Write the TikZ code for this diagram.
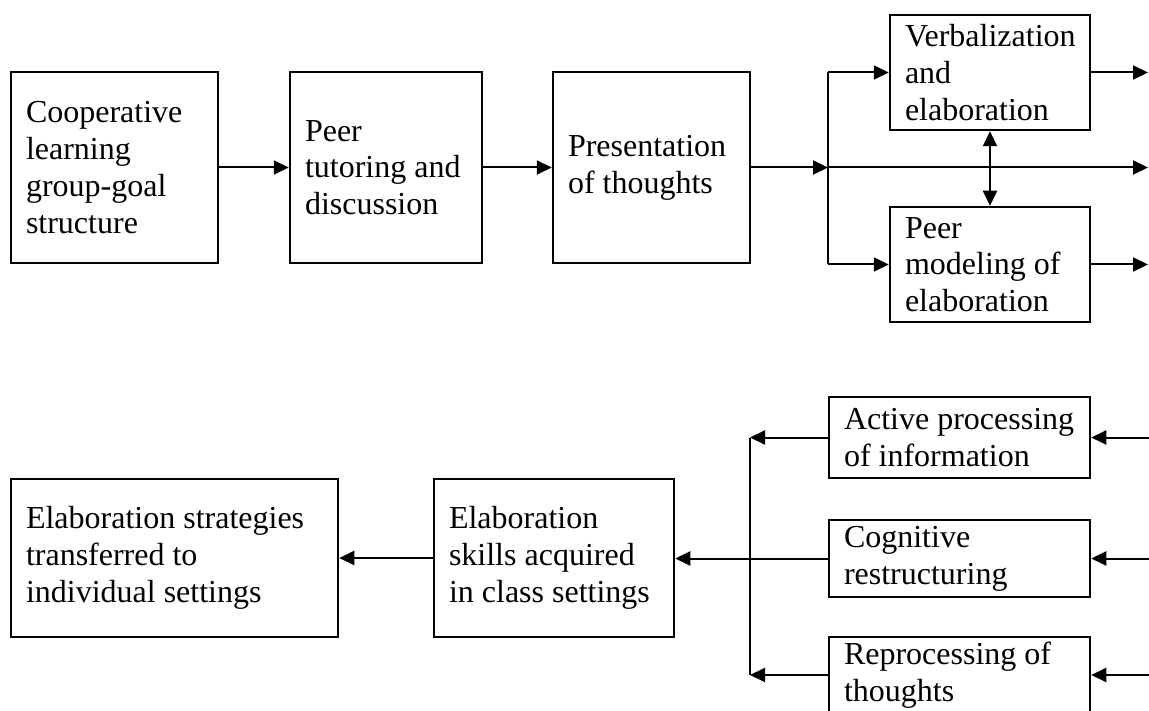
\documentclass[tikz,border=0pt]{standalone}
\usepackage{fontspec}
\setmainfont{Liberation Serif}
\usetikzlibrary{arrows.meta}
\hyphenpenalty=10000
\exhyphenpenalty=10000
\hbadness=10000
\hfuzz=50pt
\newcommand{\myboxfont}{\fontsize{32}{36.8}\selectfont}
\tikzset{
  box/.style={draw, line width=2.5pt, align=flush left, inner xsep=15pt, inner ysep=0pt,
    font=\myboxfont},
  conn/.style={line width=2pt},
  arr/.style={line width=2pt, -{Triangle[length=15pt,width=14pt]}},
  darr/.style={line width=2pt, {Triangle[length=15pt,width=14pt]}-{Triangle[length=15pt,width=14pt]}}
}
\begin{document}
\begin{tikzpicture}[x=1pt,y=-1pt]
\useasboundingbox (0,0) rectangle (1149,711);
\clip (0,0) rectangle (1149,711);
% top row
\node[box, text width=177pt, minimum height=191pt] (coop) at (114.5,167.5) {Cooperative\\learning\\group-goal\\structure};
\node[box, text width=162pt, minimum height=191pt] (tutor) at (386,167.5) {Peer\\tutoring and\\discussion};
\node[box, text width=167pt, minimum height=191pt] (pres) at (651.5,167.5) {Presentation\\of thoughts};
\node[box, text width=170pt, minimum height=115pt] (verb) at (990,72.5) {Verbalization\\and\\elaboration};
\node[box, text width=170pt, minimum height=115pt] (model) at (990,264.5) {Peer\\modeling of\\elaboration};
% bottom row
\node[box, text width=231pt, minimum height=81pt] (active) at (959.5,437.5) {Active processing\\of information};
\node[box, text width=231pt, minimum height=77pt] (cogn) at (959.5,558.5) {Cognitive\\restructuring};
\node[box, text width=231pt, minimum height=76pt] (repro) at (959.5,675) {Reprocessing of\\thoughts};
\node[box, text width=297pt, minimum height=158pt] (strat) at (174.5,558) {Elaboration strategies\\transferred to\\individual settings};
\node[box, text width=210pt, minimum height=158pt] (skills) at (554,558) {Elaboration\\skills acquired\\in class settings};
% coordinates
\coordinate (br) at (828,167.5);
\coordinate (bt) at (828,72.5);
\coordinate (bb) at (828,264.5);
\coordinate (rt) at (1148,72.5);
\coordinate (rm) at (1148,167.5);
\coordinate (rb) at (1148,264.5);
\coordinate (ia) at (1151,437.5);
\coordinate (ic) at (1151,558.5);
\coordinate (ir) at (1151,675);
\coordinate (la) at (750,437.5);
\coordinate (lr) at (750,675);
% top connectors
\draw[arr] (coop) -- (tutor);
\draw[arr] (tutor) -- (pres);
\draw[arr] (pres.east) -- (br);
\draw[conn] (bt) -- (bb);
\draw[arr] (bt) -- (verb.west);
\draw[arr] (bb) -- (model.west);
\draw[arr] (br) -- (rm);
\draw[darr] (verb.south) -- (model.north);
\draw[arr] (verb.east) -- (rt);
\draw[arr] (model.east) -- (rb);
% bottom connectors
\draw[arr] (ia) -- (active.east);
\draw[arr] (ic) -- (cogn.east);
\draw[arr] (ir) -- (repro.east);
\draw[conn] (la) -- (lr);
\draw[arr] (active.west) -- (la);
\draw[arr] (repro.west) -- (lr);
\draw[arr] (cogn.west) -- (cogn.west -| skills.east);
\draw[arr] (skills) -- (strat);
\end{tikzpicture}
\end{document}
